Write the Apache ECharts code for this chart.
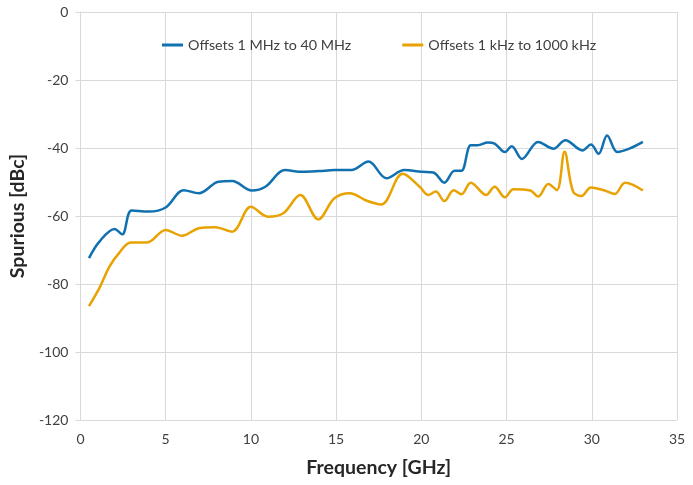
<!DOCTYPE html>
<html><head><meta charset="utf-8">
<script src="https://cdn.jsdelivr.net/npm/echarts@6/dist/echarts.min.js"></script>
<style>html,body{margin:0;padding:0;background:#fff}#c{width:693px;height:485px}</style>
</head><body><div id="c"></div>
<script>
const seriesNames = ["Offsets 1 MHz to 40 MHz", "Offsets 1 kHz to 1000 kHz"];
const xTicks = [0, 5, 10, 15, 20, 25, 30, 35];
const yTicks = [0, -20, -40, -60, -80, -100, -120];

const blueX = [0.5,1.1,2.0,2.45,3.0,4.0,5.0,6.05,6.95,8.1,8.9,10.05,10.85,12.0,13.0,14.0,14.9,15.9,16.9,17.95,19.0,20.0,20.7,21.35,21.95,22.35,22.9,23.3,23.9,24.3,24.9,25.3,25.9,26.85,27.75,28.45,29.45,29.95,30.4,30.9,31.5,32.2,33.0];
const blueY = [-72.4,-67.6,-63.8,-65.4,-58.4,-58.7,-57.5,-52.4,-53.3,-49.9,-49.7,-52.5,-51.4,-46.5,-47.0,-46.8,-46.5,-46.5,-44.0,-48.9,-46.5,-47.0,-47.2,-50.2,-46.7,-46.7,-39.2,-39.2,-38.4,-38.7,-41.2,-39.5,-43.2,-38.2,-40.2,-37.7,-40.7,-39.0,-41.7,-36.3,-41.2,-40.2,-38.2];

const orangeX = [0.5,1.1,1.7,2.25,2.95,3.9,5.0,5.95,6.95,7.9,8.9,10.0,11.0,11.9,12.9,13.95,14.9,15.8,16.8,17.65,18.9,19.9,20.4,20.85,21.35,21.9,22.35,22.9,23.8,24.3,24.9,25.4,26.4,26.85,27.45,27.95,28.4,28.9,29.4,29.95,30.75,31.35,31.95,32.45,33.0];
const orangeY = [-86.5,-81.3,-74.9,-71.0,-67.8,-67.8,-64.1,-65.8,-63.6,-63.3,-64.6,-57.3,-60.2,-59.2,-53.8,-61.0,-54.8,-53.3,-55.5,-56.6,-47.6,-51.4,-53.8,-52.8,-55.6,-52.4,-53.6,-50.2,-53.8,-51.4,-54.5,-52.1,-52.5,-54.3,-50.6,-52.4,-41.1,-52.8,-54.1,-51.6,-52.5,-53.5,-50.2,-50.9,-52.5];

const zip = (xs, ys) => xs.map((x, i) => [x, ys[i]]);
const font = "Lato, 'Open Sans', sans-serif";
const gridCol = '#d9d9d9';

const chart = echarts.init(document.getElementById('c'), null, {renderer: 'canvas'});
chart.setOption({
  animation: false,
  backgroundColor: '#fff',
  grid: {left: 78, right: 16, top: 12, bottom: 65, containLabel: false},
  legend: {
    data: seriesNames, top: 33, left: 157, icon: 'rect', itemWidth: 21, itemHeight: 3, itemGap: 51,
    textStyle: {fontFamily: font, fontSize: 14.3, color: '#404040'}
  },
  xAxis: {
    type: 'value', min: 0, max: 35, interval: 5,
    name: 'Frequency [GHz]', nameLocation: 'middle', nameGap: 38,
    nameTextStyle: {fontFamily: font, fontSize: 19.5, fontWeight: 'bold', color: '#262626'},
    axisLine: {show: true, lineStyle: {color: gridCol}},
    axisTick: {show: true, length: 5, lineStyle: {color: gridCol}},
    splitLine: {show: true, lineStyle: {color: gridCol, width: 1}},
    axisLabel: {fontFamily: font, fontSize: 14, color: '#404040', margin: 12,
      formatter: v => xTicks.includes(v) ? String(v) : ''}
  },
  yAxis: {
    type: 'value', min: -120, max: 0, interval: 20,
    name: 'Spurious [dBc]', nameLocation: 'middle', nameGap: 52, nameRotate: 90,
    nameTextStyle: {fontFamily: font, fontSize: 19.5, fontWeight: 'bold', color: '#262626'},
    axisLine: {show: true, lineStyle: {color: gridCol}},
    axisTick: {show: true, length: 5, lineStyle: {color: gridCol}},
    splitLine: {show: true, lineStyle: {color: gridCol, width: 1}},
    axisLabel: {fontFamily: font, fontSize: 14, color: '#404040', margin: 12,
      formatter: v => yTicks.includes(v) ? String(v) : ''}
  },
  series: [
    {name: seriesNames[0], type: 'line', data: zip(blueX, blueY), smooth: 0.35, showSymbol: false,
     symbol: 'none', color: '#1170B0', lineStyle: {width: 2.5, color: '#1170B0'}},
    {name: seriesNames[1], type: 'line', data: zip(orangeX, orangeY), smooth: 0.35, showSymbol: false,
     symbol: 'none', color: '#E8A202', lineStyle: {width: 2.5, color: '#E8A202'}}
  ]
});
</script></body></html>
